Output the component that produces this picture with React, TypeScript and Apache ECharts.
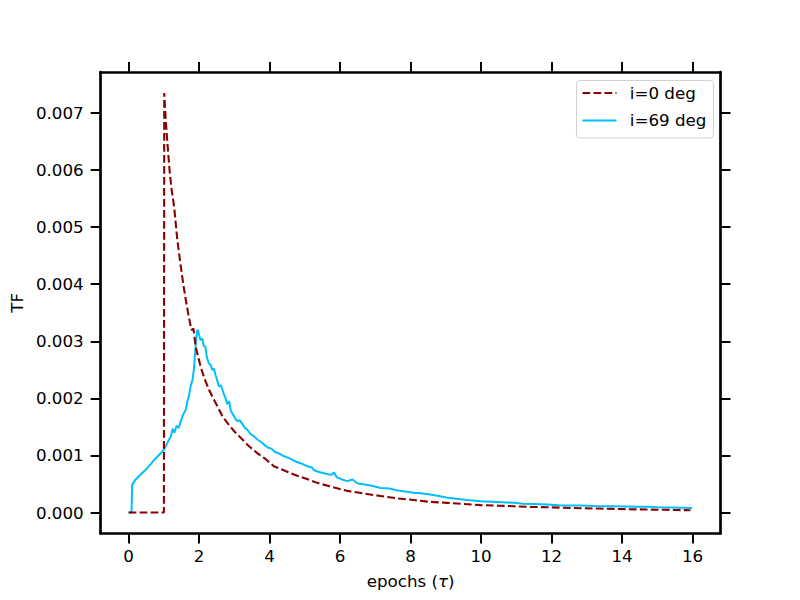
import React, { useEffect, useRef } from "react";
import * as echarts from "echarts";

const xTicks = [0, 2, 4, 6, 8, 10, 12, 14, 16];
const yTicks = [0, 0.001, 0.002, 0.003, 0.004, 0.005, 0.006, 0.007];
const seriesNames = ["i=0 deg", "i=69 deg"];

const epochsI0 = [
  0, 0.5, 1.0, 1.01, 1.05, 1.1, 1.16, 1.22, 1.29, 1.33, 1.38, 1.48, 1.55, 1.62, 1.7, 1.78,
  1.84, 1.9, 2.04, 2.15, 2.28, 2.4, 2.52, 2.65, 2.8, 3.0, 3.18, 3.4, 3.65, 3.9, 4.12, 4.4,
  4.69, 5.0, 5.35, 5.7, 6.2, 6.7, 7.15, 7.6, 8.09, 8.5, 9.04, 9.5, 9.99, 10.5, 10.93, 11.4,
  11.88, 12.3, 12.82, 13.3, 13.77, 14.2, 14.71, 15.2, 15.6, 15.94,
];
const tfI0 = [
  0, 0, 0, 0.00735, 0.0069, 0.00647, 0.006, 0.00565, 0.00536, 0.0051, 0.00478, 0.00431, 0.004,
  0.00373, 0.00345, 0.0032, 0.00322, 0.00291, 0.00256, 0.00235, 0.00215, 0.002, 0.00186, 0.0017,
  0.00157, 0.00142, 0.00131, 0.00117, 0.00104, 0.00093, 0.00081, 0.00074, 0.000665, 0.0006,
  0.00052, 0.00046, 0.00038, 0.00033, 0.00029, 0.00025, 0.00022, 0.00019, 0.00017, 0.00015,
  0.00013, 0.00012, 0.00011, 0.0001, 0.000093, 0.000085, 0.000076, 0.00007, 0.000064, 0.000058,
  0.000053, 0.000048, 0.000044, 0.00004,
];

const epochsI69 = [
  0, 0.08, 0.1, 0.2, 0.34, 0.5, 0.6, 0.72, 0.85, 1.0, 1.1, 1.2, 1.25, 1.3, 1.36, 1.42, 1.48,
  1.55, 1.62, 1.68, 1.71, 1.76, 1.81, 1.85, 1.88, 1.91, 1.94, 1.97, 2.0, 2.04, 2.09, 2.13, 2.18,
  2.22, 2.27, 2.33, 2.37, 2.42, 2.47, 2.52, 2.56, 2.62, 2.7, 2.75, 2.8, 2.85, 2.9, 2.94, 3.0,
  3.04, 3.1, 3.15, 3.23, 3.3, 3.37, 3.45, 3.55, 3.65, 3.75, 3.84, 3.95, 4.05, 4.15, 4.25, 4.4,
  4.6, 4.75, 4.9, 5.07, 5.2, 5.26, 5.4, 5.6, 5.75, 5.83, 5.9, 6.05, 6.2, 6.35, 6.5, 6.7, 6.9,
  7.15, 7.4, 7.6, 7.85, 8.09, 8.3, 8.6, 8.8, 9.04, 9.3, 9.6, 9.99, 10.3, 10.6, 10.93, 11.2, 11.5,
  11.88, 12.2, 12.5, 12.82, 13.2, 13.5, 13.77, 14.1, 14.4, 14.71, 15.0, 15.4, 15.7, 15.99,
];
const tfI69 = [
  0, 0, 0.00049, 0.00058, 0.000665, 0.00076, 0.00083, 0.00092, 0.001, 0.0011, 0.00122, 0.00134,
  0.00147, 0.0014, 0.00152, 0.00148, 0.0016, 0.00172, 0.0018, 0.00198, 0.00204, 0.00222, 0.00232,
  0.0025, 0.00275, 0.003, 0.00318, 0.0032, 0.0031, 0.00302, 0.00305, 0.00292, 0.0029, 0.00272,
  0.00262, 0.00258, 0.0025, 0.00252, 0.0024, 0.0023, 0.00221, 0.00223, 0.00208, 0.002, 0.0019,
  0.00195, 0.00178, 0.00174, 0.00168, 0.00163, 0.0016, 0.00162, 0.00155, 0.00148, 0.00145,
  0.00138, 0.00134, 0.00128, 0.00124, 0.00119, 0.00114, 0.00112, 0.00106, 0.00104, 0.00099,
  0.00094, 0.00089, 0.00086, 0.00081, 0.00079, 0.00074, 0.00071, 0.00068, 0.00066, 0.0007,
  0.00062, 0.00058, 0.00055, 0.00058, 0.00051, 0.00049, 0.00047, 0.00043, 0.00042, 0.00039,
  0.00037, 0.000345, 0.00034, 0.00031, 0.00029, 0.00026, 0.00024, 0.00022, 0.0002, 0.00019,
  0.00018, 0.00017, 0.000155, 0.00015, 0.00014, 0.00013, 0.000125, 0.000122, 0.000115, 0.00011,
  0.00011, 0.000105, 0.0001, 0.0001, 0.000095, 0.00009, 0.000085, 0.00008,
];

const FONT = "DejaVu Sans";
const FS = 16.7;
const X_MIN = -0.794;
const X_MAX = 16.794;
const Y_MIN = -0.000367;
const Y_MAX = 0.007717;

export default function App() {
  const ref = useRef<HTMLDivElement>(null);
  useEffect(() => {
    document.body.style.margin = "0";
    const chart = echarts.init(ref.current!, null, { renderer: "svg" });
    const frameLine = { show: true, onZero: false, lineStyle: { color: "#000", width: 2.7 } };
    const tickStyle = { show: true, inside: false, length: 10, lineStyle: { color: "#000", width: 2 } };
    const xBase = {
      type: "value" as const,
      min: X_MIN,
      max: X_MAX,
      splitLine: { show: false },
      axisLine: frameLine,
    };
    const yBase = {
      type: "value" as const,
      min: Y_MIN,
      max: Y_MAX,
      splitLine: { show: false },
      axisLine: frameLine,
    };
    chart.setOption({
      animation: false,
      backgroundColor: "#fff",
      textStyle: { fontFamily: FONT },
      grid: { left: 100.5, right: 79.5, top: 72, bottom: 66.5, containLabel: false },
      legend: {
        left: 576.5,
        top: 80.5,
        orient: "vertical",
        data: seriesNames,
        itemWidth: 34,
        itemHeight: 14,
        itemGap: 10.4,
        padding: [4, 7, 9, 5],
        backgroundColor: "#fff",
        borderColor: "#d0d0d0",
        borderWidth: 1,
        borderRadius: 3,
        itemStyle: { opacity: 0 },
        textStyle: {
          fontFamily: FONT,
          fontSize: FS,
          lineHeight: 17,
          color: "#000",
          padding: [0, 0, 0, 8.3],
        },
      },
      xAxis: [
        {
          ...xBase,
          position: "bottom",
          name: "epochs ({i|τ})",
          nameLocation: "middle",
          nameGap: 39,
          nameTextStyle: {
            fontFamily: FONT,
            fontSize: FS,
            color: "#000",
            rich: { i: { fontFamily: FONT, fontStyle: "italic", fontSize: FS, color: "#000" } },
          },
          axisTick: { ...tickStyle, customValues: xTicks },
          axisLabel: {
            customValues: xTicks,
            margin: 14,
            fontFamily: FONT,
            fontSize: FS,
            color: "#000",
            formatter: (v: number) => String(Math.round(v)),
          },
        },
        {
          ...xBase,
          position: "top",
          axisTick: { ...tickStyle, customValues: xTicks },
          axisLabel: { show: false, customValues: xTicks },
        },
      ],
      yAxis: [
        {
          ...yBase,
          position: "left",
          name: "TF",
          nameLocation: "middle",
          nameGap: 67,
          nameRotate: 90,
          nameTextStyle: { fontFamily: FONT, fontSize: FS, color: "#000" },
          axisTick: { ...tickStyle, customValues: yTicks },
          axisLabel: {
            customValues: yTicks,
            margin: 17,
            fontFamily: FONT,
            fontSize: FS,
            color: "#000",
            formatter: (v: number) => v.toFixed(3),
          },
        },
        {
          ...yBase,
          position: "right",
          axisTick: { ...tickStyle, customValues: yTicks },
          axisLabel: { show: false, customValues: yTicks },
        },
      ],
      series: [
        {
          name: seriesNames[0],
          type: "line",
          xAxisIndex: 0,
          yAxisIndex: 0,
          symbol: "none",
          clip: true,
          data: epochsI0.map((x, i) => [x, tfI0[i]]),
          lineStyle: { color: "#8B0000", width: 2.1, type: [7.7, 3.3] },
          itemStyle: { color: "#8B0000" },
          z: 3,
        },
        {
          name: seriesNames[1],
          type: "line",
          xAxisIndex: 0,
          yAxisIndex: 0,
          symbol: "none",
          clip: true,
          data: epochsI69.map((x, i) => [x, tfI69[i]]),
          lineStyle: { color: "#00BFFF", width: 2 },
          itemStyle: { color: "#00BFFF" },
          z: 2,
        },
      ],
    });
    return () => chart.dispose();
  }, []);
  return (
    <div
      ref={ref}
      style={{ position: "absolute", left: 0, top: 0, width: 800, height: 600 }}
    />
  );
}
